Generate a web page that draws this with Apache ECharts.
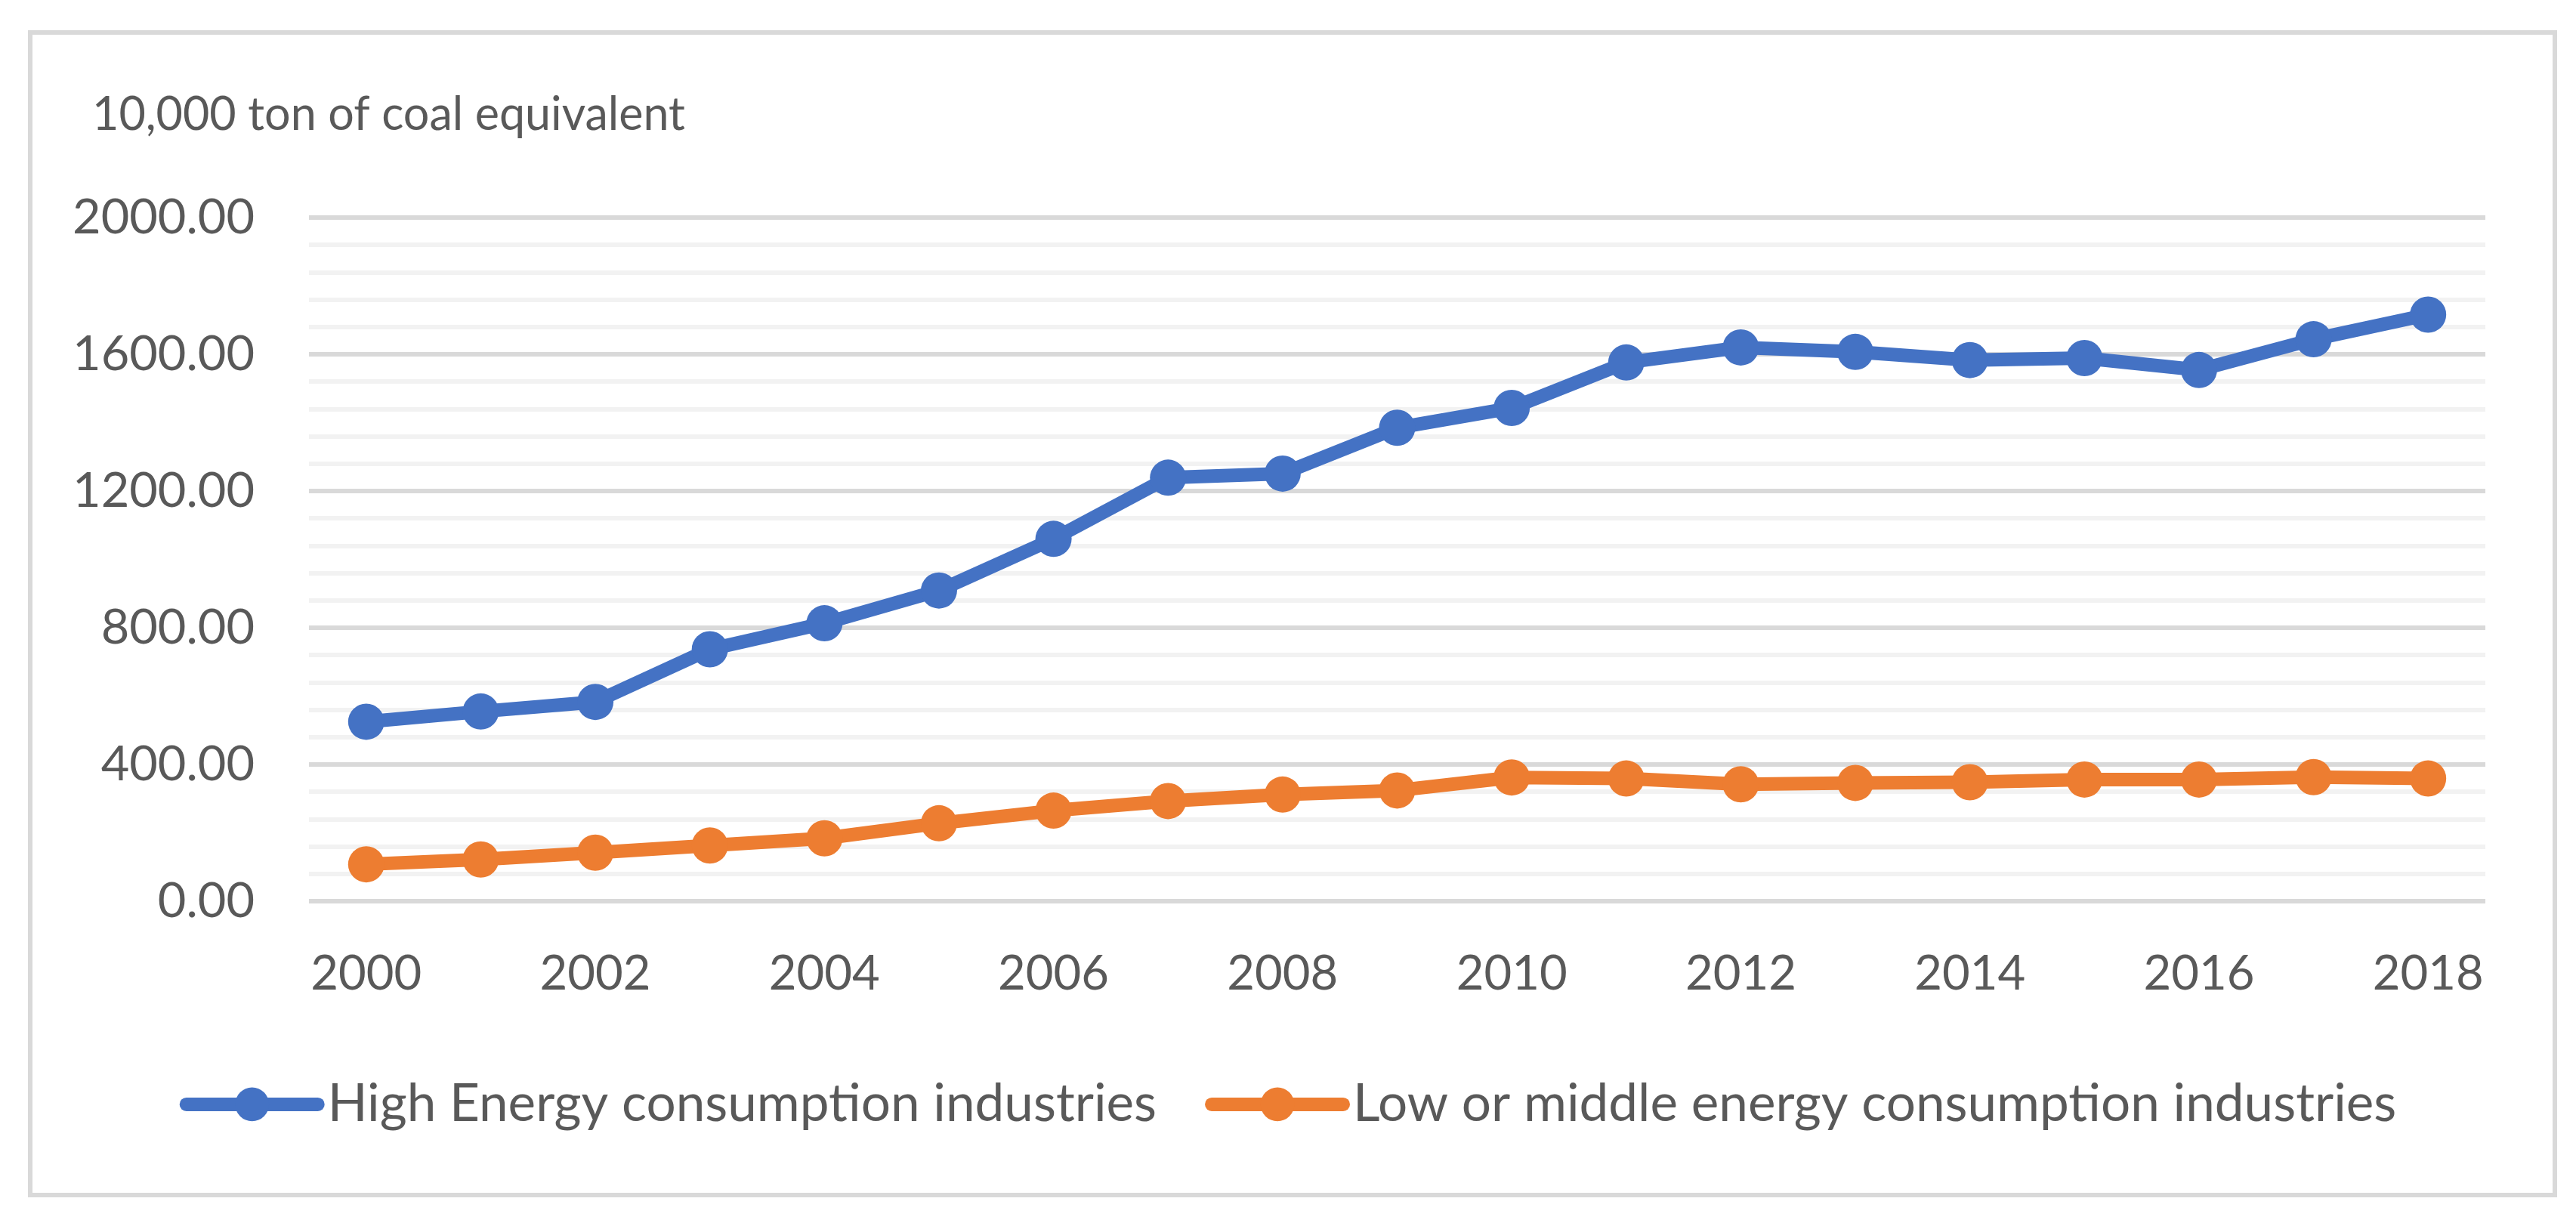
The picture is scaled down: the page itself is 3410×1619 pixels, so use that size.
<!DOCTYPE html>
<html>
<head>
<meta charset="utf-8">
<script src="https://cdn.jsdelivr.net/npm/echarts@6/dist/echarts.min.js"></script>
<style>
html,body{margin:0;padding:0;background:#fff;}
#chart{width:3410px;height:1619px;}
</style>
</head>
<body>
<div id="chart"></div>
<script>
const years = ['2000','2001','2002','2003','2004','2005','2006','2007','2008','2009','2010','2011','2012','2013','2014','2015','2016','2017','2018'];
const highEnergy = [525, 555, 583, 737, 813, 909, 1060, 1239, 1251, 1385, 1443, 1576, 1620, 1607, 1583, 1589, 1554, 1644, 1716];
const lowMiddleEnergy = [108, 122, 142, 163, 184, 228, 265, 293, 312, 324, 362, 359, 342, 346, 348, 356, 356, 363, 359];
const seriesNames = ['High Energy consumption industries', 'Low or middle energy consumption industries'];
const unitTitle = '10,000 ton of coal equivalent';
const yTicks = {min: 0, max: 2000, interval: 400};

// font selection and fitting text widths to the reference
const cv = document.createElement('canvas').getContext('2d');
function tw(font, t){ cv.font = font; return cv.measureText(t).width; }
function has(f){ const t = 'mmmmmlllliiiWW0123456789'; return tw("100px '" + f + "', monospace", t) !== tw('100px monospace', t); }
const FONT = ['Lato', 'Roboto', 'Open Sans', 'Noto Sans'].find(has) || 'sans-serif';
function fit(text, target){ return target / tw("100px '" + FONT + "'", text) * 100; }

const fsY = fit('2000.00', 241);
const fsX = fit('2000', 147);
const fsTitle = fit(unitTitle, 785);
const fsLeg = (fit(seriesNames[0], 1090) + fit(seriesNames[1], 1391)) / 2;
const textColor = '#595959';

const chart = echarts.init(document.getElementById('chart'), null, {renderer: 'canvas'});
const legH = 56;
chart.setOption({
  backgroundColor: '#ffffff',
  animation: false,
  color: ['#4472C4', '#ED7D31'],
  graphic: [
    {type: 'rect', left: 37, top: 40, shape: {x: 0, y: 0, width: 3342, height: 1539},
     style: {fill: 'none', stroke: '#D9D9D9', lineWidth: 6}, z: -1},
    {type: 'text', x: 122, y: 152,
     style: {text: unitTitle, fill: textColor, font: fsTitle.toFixed(1) + "px '" + FONT + "'", textVerticalAlign: 'middle', verticalAlign: 'middle'}}
  ],
  grid: {left: 409, right: 120, top: 288, bottom: 426, containLabel: false},
  legend: {
    data: seriesNames,
    left: 'center',
    top: 1457 - Math.max(legH, fsLeg) / 2,
    itemWidth: 174,
    itemHeight: legH,
    itemGap: 64,
    lineStyle: {width: 18, cap: 'round'},
    textStyle: {color: textColor, fontSize: fsLeg, fontFamily: FONT, padding: [0, 0, 0, 8]}
  },
  xAxis: {
    type: 'category',
    data: years,
    boundaryGap: true,
    axisLine: {show: false},
    axisTick: {show: false},
    axisLabel: {interval: 1, color: textColor, fontSize: fsX, fontFamily: FONT, margin: 1290 - 1193 - fsX / 2}
  },
  yAxis: {
    type: 'value',
    min: yTicks.min, max: yTicks.max, interval: yTicks.interval,
    axisLine: {show: false},
    axisTick: {show: false},
    axisLabel: {color: textColor, fontSize: fsY, fontFamily: FONT, margin: 72, formatter: v => v.toFixed(2)},
    splitLine: {show: true, lineStyle: {color: '#D9D9D9', width: 6}},
    minorTick: {show: false, splitNumber: 5},
    minorSplitLine: {show: true, lineStyle: {color: '#F2F2F2', width: 6}}
  },
  series: [
    {name: seriesNames[0], type: 'line', data: highEnergy, symbol: 'circle', symbolSize: 48,
     lineStyle: {width: 18, cap: 'round', join: 'round'}, itemStyle: {color: '#4472C4'}, z: 3},
    {name: seriesNames[1], type: 'line', data: lowMiddleEnergy, symbol: 'circle', symbolSize: 48,
     lineStyle: {width: 18, cap: 'round', join: 'round'}, itemStyle: {color: '#ED7D31'}, z: 4}
  ]
});
</script>
</body>
</html>
